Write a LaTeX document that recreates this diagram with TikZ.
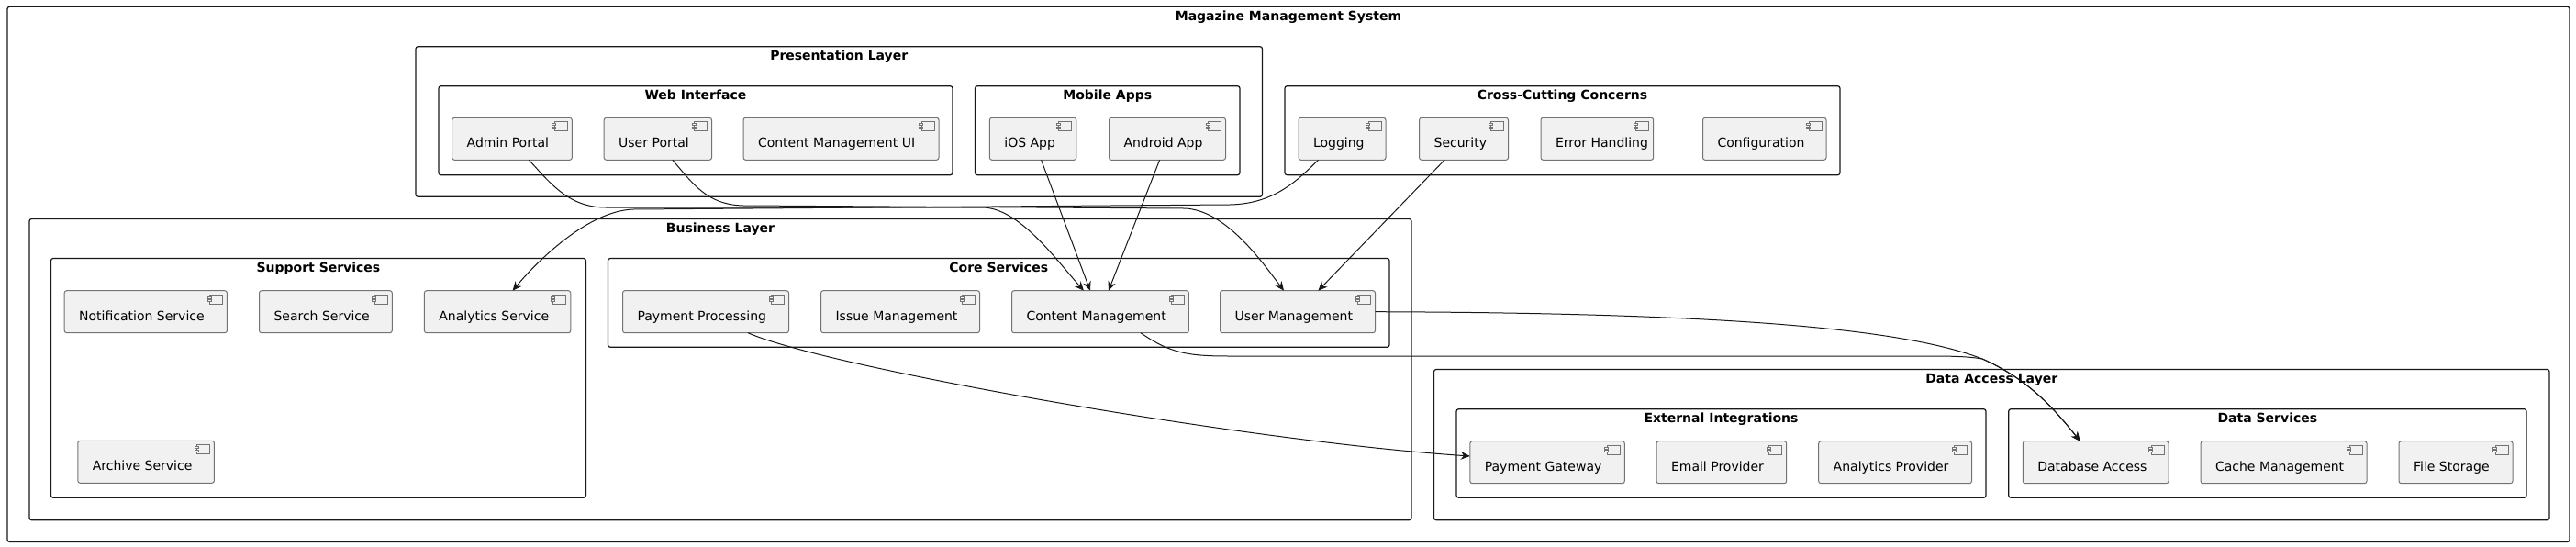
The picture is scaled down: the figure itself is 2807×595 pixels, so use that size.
\documentclass[tikz,border=0pt]{standalone}
\usepackage{fontspec}
\setmainfont{DejaVu Sans}
\usetikzlibrary{calc,arrows.meta}
\definecolor{cfill}{HTML}{F1F1F1}
\definecolor{ink}{HTML}{181818}
\tikzset{
  fbox/.style={draw=ink, line width=0.6pt, rounded corners=1.25pt, inner sep=0pt, outer sep=0pt},
  ftitle/.style={font=\fontsize{7}{8.4}\selectfont\bfseries, inner sep=0pt, text=black},
  cbox/.style={draw=black!55, fill=cfill, line width=0.5pt, rounded corners=1.25pt, inner sep=0pt, outer sep=0pt, minimum height=23pt},
  ctxt/.style={font=\fontsize{7}{8.4}\selectfont, inner sep=0pt, text=black},
  icon/.style={draw=black!55, line width=0.4pt},
  conn/.style={draw=ink, line width=0.5pt, -{Stealth[length=5pt,width=4.4pt,inset=1.6pt]}}
}
\newcommand\cmpnt[5]{%
  \node[cbox, minimum width={(#3-#2)*0.5pt}] (#1) at ({(#2+#3)/2},{#4+23}) {};
  \node[ctxt, anchor=base west] (#1-lbl) at ($(#1.north west)+(15.6,32.4)$) {#5};
  \draw[icon] ($(#1.north east)+(-19,4.5)$) rectangle ($(#1.north east)+(-5,14.5)$);
  \draw[icon,fill=cfill] ($(#1.north east)+(-21.5,6.5)$) rectangle ($(#1.north east)+(-17.5,8.5)$);
  \draw[icon,fill=cfill] ($(#1.north east)+(-21.5,10)$) rectangle ($(#1.north east)+(-17.5,12)$);
}
\newcommand\frm[6]{%
  \node[fbox, minimum width={(#4-#2)*0.5pt}, minimum height={(#5-#3)*0.5pt}] (#1) at ({(#2+#4)/2},{(#3+#5)/2}) {};
  \node[ftitle, anchor=base] (#1-lbl) at ($(#1.north)+(0,15)$) {#6};
}
\begin{document}
\begin{tikzpicture}[x=0.5pt,y=-0.5pt]
\useasboundingbox (0,0) rectangle (2807,595);
% frames
\frm{outer}{8}{7.3}{2800}{590.5}{Magazine Management System}
\frm{pres}{453}{50.7}{1375.5}{214.3}{Presentation Layer}
\frm{web}{478}{93.7}{1038}{190.7}{Web Interface}
\frm{mobile}{1062.5}{93.7}{1351}{190.7}{Mobile Apps}
\frm{cross}{1400}{93.7}{2005}{190.7}{Cross-Cutting Concerns}
\frm{bus}{32}{238.5}{1538}{566.7}{Business Layer}
\frm{support}{55.5}{281.5}{638.4}{542.3}{Support Services}
\frm{core}{662.5}{281.5}{1514}{378.3}{Core Services}
\frm{dal}{1562.5}{402.5}{2778}{566.7}{Data Access Layer}
\frm{ext}{1587}{445.7}{2164}{542.3}{External Integrations}
\frm{dsvc}{2188.7}{445.7}{2753}{542.3}{Data Services}
% components
\cmpnt{admin}{492.7}{623.3}{128.3}{Admin Portal}
\cmpnt{uport}{658.2}{775.5}{128.3}{User Portal}
\cmpnt{cmui}{810}{1023}{128.3}{Content Management UI}
\cmpnt{ios}{1078.4}{1172.8}{128.3}{iOS App}
\cmpnt{android}{1208.5}{1335.5}{128.3}{Android App}
\cmpnt{logging}{1415}{1510}{128.3}{Logging}
\cmpnt{security}{1546.6}{1643.5}{128.3}{Security}
\cmpnt{errh}{1679}{1801.7}{128.3}{Error Handling}
\cmpnt{config}{1855.5}{1990}{128.3}{Configuration}
\cmpnt{notif}{70.2}{247.4}{316.7}{Notification Service}
\cmpnt{search}{282.5}{427.3}{316.7}{Search Service}
\cmpnt{anas}{462.4}{621.8}{316.7}{Analytics Service}
\cmpnt{archive}{84.8}{233.4}{480.3}{Archive Service}
\cmpnt{pp}{678.5}{859.5}{316.7}{Payment Processing}
\cmpnt{issue}{894.6}{1067.5}{316.7}{Issue Management}
\cmpnt{cm}{1102.5}{1295.4}{316.7}{Content Management}
\cmpnt{um}{1329.5}{1498.5}{316.7}{User Management}
\cmpnt{pg}{1601.8}{1770.3}{480.7}{Payment Gateway}
\cmpnt{email}{1805}{1946.7}{480.7}{Email Provider}
\cmpnt{anprov}{1981.7}{2148.5}{480.7}{Analytics Provider}
\cmpnt{db}{2204.3}{2363}{480.7}{Database Access}
\cmpnt{cache}{2398}{2579}{480.7}{Cache Management}
\cmpnt{files}{2614}{2738}{480.7}{File Storage}
% connectors
\draw[conn] ($(admin.south)+(18.4,0)$) .. controls (600,200) and (620,226) .. (660,226) -- (1070,226) .. controls (1110,226) and (1150,282) .. ($(cm.north)+(-18,0)$);
\draw[conn] ($(uport.south)+(16,0)$) .. controls (755,200) and (770,223) .. (810,224) -- (1290,227) .. controls (1335,228) and (1375,285) .. ($(um.north)+(-15,0)$);
\draw[conn] ($(ios.south)+(9,0)$) -- ($(cm.north)+(-11,0)$);
\draw[conn] ($(android.south)+(-8.4,0)$) -- ($(cm.north)+(9,0)$);
\draw[conn] ($(logging.south)+(-26,0)$) .. controls (1415,195) and (1390,222) .. (1340,223) -- (690,228) .. controls (640,230) and (585,285) .. ($(anas.north)+(16.5,0)$);
\draw[conn] ($(security.south)+(-21,0)$) -- ($(um.north)+(22.4,0)$);
\draw[conn] ($(cm.south)+(44,0)$) .. controls (1275,385) and (1295,388) .. (1340,388) -- (2100,388) .. controls (2130,388) and (2145,388.5) .. (2160,391) .. controls (2210,413) and (2238,445) .. ($(db.north)+(-17,0)$);
\draw[conn] (um.east) .. controls (1900,341) and (2080,360) .. (2160,391) .. controls (2210,413) and (2238,445) .. ($(db.north)+(-17,0)$);
\draw[conn] ($(pp.south)+(46,0)$) .. controls (900,400) and (1350,480) .. ($(pg.west)+(0,-6.7)$);
\end{tikzpicture}
\end{document}
